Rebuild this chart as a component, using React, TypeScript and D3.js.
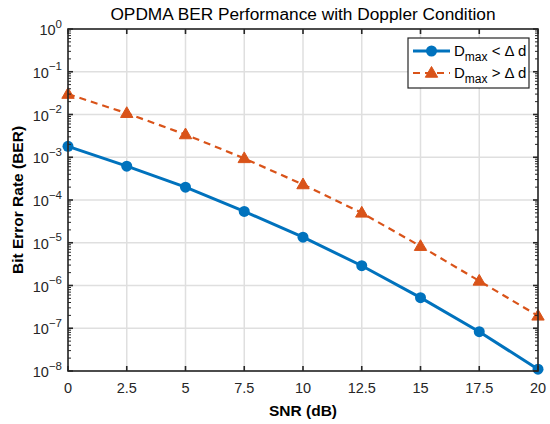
import * as d3 from "d3";

const snr = [0, 2.5, 5, 7.5, 10, 12.5, 15, 17.5, 20];
const berBelow = [1.8e-3, 6.2e-4, 2.0e-4, 5.4e-5, 1.35e-5, 2.9e-6, 5.2e-7, 8.3e-8, 1.1e-8];
const berAbove = [3.0e-2, 1.07e-2, 3.4e-3, 9.4e-4, 2.3e-4, 5.0e-5, 8.3e-6, 1.28e-6, 1.95e-7];
const xTicks = [0, 2.5, 5, 7.5, 10, 12.5, 15, 17.5, 20];
const yExponents = [0, -1, -2, -3, -4, -5, -6, -7, -8];

const width = 550;
const height = 424;
const margin = { top: 29, right: 12, bottom: 53, left: 68 };
const blue = "#0072BD";
const orange = "#D95319";
const axisColor = "#262626";
const font = "'Liberation Sans', Arial, Helvetica, sans-serif";

export default function App() {
  const x = d3
    .scaleLinear()
    .domain([0, 20])
    .range([margin.left, width - margin.right]);
  const y = d3
    .scaleLog()
    .domain([1e-8, 1])
    .range([height - margin.bottom, margin.top]);

  const x0 = x.range()[0];
  const x1 = x.range()[1];
  const y0 = y.range()[0];
  const y1 = y.range()[1];

  const line = d3
    .line<number>()
    .x((_, i) => x(snr[i]))
    .y((d) => y(d));

  const minor: number[] = [];
  for (let e = -8; e < 0; e++) {
    for (let m = 2; m <= 9; m++) minor.push(m * Math.pow(10, e));
  }

  const tri = (cx: number, cy: number, s: number) =>
    `M${cx},${cy - s} L${cx + s * 0.95},${cy + s * 0.65} L${cx - s * 0.95},${cy + s * 0.65} Z`;

  const lx = 408;
  const ly = 38;

  return (
    <svg width={width} height={height} style={{ display: "block", position: "absolute", left: 0, top: 0 }}>
      <rect x={0} y={0} width={width} height={height} fill="#fff" />
      {/* grid */}
      {xTicks.map((t) => (
        <line key={`gx${t}`} x1={x(t)} x2={x(t)} y1={y0} y2={y1} stroke="#dfdfdf" strokeWidth={1.5} />
      ))}
      {yExponents.map((e) => (
        <line key={`gy${e}`} x1={x0} x2={x1} y1={y(Math.pow(10, e))} y2={y(Math.pow(10, e))} stroke="#dfdfdf" strokeWidth={1.5} />
      ))}

      {/* series */}
      <path d={line(berAbove) ?? ""} fill="none" stroke={orange} strokeWidth={2.2} strokeDasharray="7,5" />
      {berAbove.map((v, i) => (
        <path key={`ta${i}`} d={tri(x(snr[i]), y(v), 6.5)} fill={orange} stroke={orange} strokeWidth={1} />
      ))}
      <path d={line(berBelow) ?? ""} fill="none" stroke={blue} strokeWidth={3} />
      {berBelow.map((v, i) => (
        <circle key={`cb${i}`} cx={x(snr[i])} cy={y(v)} r={5.5} fill={blue} />
      ))}

      {/* axes box */}
      <rect x={x0} y={y1} width={x1 - x0} height={y0 - y1} fill="none" stroke={axisColor} strokeWidth={1.6} />
      {xTicks.map((t) => (
        <g key={`xt${t}`}>
          <line x1={x(t)} x2={x(t)} y1={y0} y2={y0 - 5} stroke={axisColor} strokeWidth={1.6} />
          <line x1={x(t)} x2={x(t)} y1={y1} y2={y1 + 5} stroke={axisColor} strokeWidth={1.6} />
          <text x={x(t)} y={y0 + 22} textAnchor="middle" fontFamily={font} fontSize={14.5} fill={axisColor}>
            {t}
          </text>
        </g>
      ))}
      {yExponents.map((e) => {
        const yy = y(Math.pow(10, e));
        return (
          <g key={`yt${e}`}>
            <line x1={x0} x2={x0 + 5} y1={yy} y2={yy} stroke={axisColor} strokeWidth={1.6} />
            <line x1={x1} x2={x1 - 5} y1={yy} y2={yy} stroke={axisColor} strokeWidth={1.6} />
            <text x={x0 - 6} y={yy + 6} textAnchor="end" fontFamily={font} fontSize={14.5} fill={axisColor}>
              10
              <tspan dy={-7.5} fontSize={11.5}>
                {e === 0 ? "0" : `\u2212${-e}`}
              </tspan>
            </text>
          </g>
        );
      })}
      {minor.map((v, i) => (
        <g key={`mn${i}`}>
          <line x1={x0} x2={x0 + 3} y1={y(v)} y2={y(v)} stroke={axisColor} strokeWidth={1} />
          <line x1={x1} x2={x1 - 3} y1={y(v)} y2={y(v)} stroke={axisColor} strokeWidth={1} />
        </g>
      ))}

      {/* labels */}
      <text x={(x0 + x1) / 2} y={20} textAnchor="middle" fontFamily={font} fontSize={17.3} fill="#000">
        OPDMA BER Performance with Doppler Condition
      </text>
      <text x={(x0 + x1) / 2} y={416} textAnchor="middle" fontFamily={font} fontSize={15.5} fontWeight="bold" fill="#000">
        SNR (dB)
      </text>
      <text
        transform={`translate(23,${(y0 + y1) / 2}) rotate(-90)`}
        textAnchor="middle"
        fontFamily={font}
        fontSize={15.5}
        fontWeight="bold"
        fill="#000"
      >
        Bit Error Rate (BER)
      </text>

      {/* legend */}
      <rect x={lx} y={ly} width={121} height={50} fill="#fff" stroke={axisColor} strokeWidth={1.2} />
      <line x1={lx + 5} x2={lx + 42} y1={ly + 13} y2={ly + 13} stroke={blue} strokeWidth={3} />
      <circle cx={lx + 23.5} cy={ly + 13} r={5.5} fill={blue} />
      <text x={lx + 46} y={ly + 18} fontFamily={font} fontSize={15} fill="#000">
        D<tspan dy={5} fontSize={12}>max</tspan>
        <tspan dy={-5}> &lt; Δ d</tspan>
      </text>
      <line x1={lx + 5} x2={lx + 42} y1={ly + 35} y2={ly + 35} stroke={orange} strokeWidth={2.2} strokeDasharray="7,5" />
      <path d={tri(lx + 23.5, ly + 35, 6.5)} fill={orange} stroke={orange} strokeWidth={1} />
      <text x={lx + 46} y={ly + 40} fontFamily={font} fontSize={15} fill="#000">
        D<tspan dy={5} fontSize={12}>max</tspan>
        <tspan dy={-5}> &gt; Δ d</tspan>
      </text>
    </svg>
  );
}
